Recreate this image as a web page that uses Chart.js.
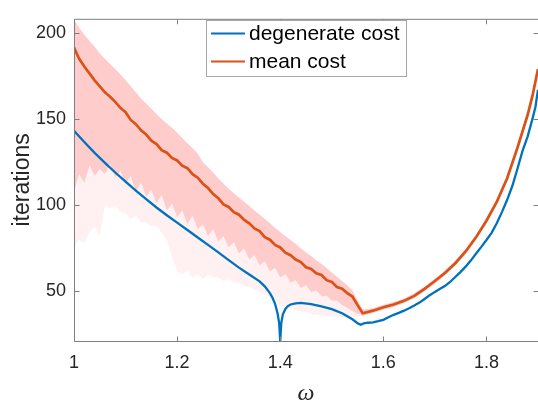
<!DOCTYPE html>
<html><head><meta charset="utf-8">
<script src="https://cdn.jsdelivr.net/npm/chart.js@4.4.0/dist/chart.umd.min.js"></script>
<style>html,body{margin:0;padding:0;background:#fff;}#c{display:block;}</style>
</head><body>
<canvas id="c" width="538" height="402"></canvas>
<script>
const xTicks = [1, 1.2, 1.4, 1.6, 1.8];
const yTicks = [50, 100, 150, 200];
const xTitle = 'ω';
const yTitle = 'iterations';
const seriesLabels = ['degenerate cost', 'mean cost'];

const degX = [1.00,1.02,1.04,1.06,1.08,1.10,1.12,1.14,1.16,1.18,1.20,1.22,1.24,1.26,1.28,1.30,1.32,1.34,1.36,1.37,1.38,1.385,1.39,1.395,1.398,1.40,1.402,1.405,1.41,1.415,1.42,1.43,1.44,1.46,1.48,1.50,1.52,1.54,1.55,1.556,1.562,1.57,1.58,1.59,1.60,1.61,1.62,1.63,1.64,1.65,1.66,1.67,1.68,1.69,1.70,1.71,1.72,1.73,1.74,1.75,1.76,1.77,1.78,1.79,1.80,1.81,1.82,1.83,1.84,1.85,1.86,1.87,1.88,1.89,1.895,1.90];
const degY = [143.2,136.7,130.4,124.6,119,113.7,108.5,103.5,98.7,94.2,89.9,85.6,81.3,77,72.6,68.1,63.8,59.8,55.8,52.9,49,46.3,42.8,37,31.5,21.2,31.5,36.5,39.8,41.5,42.4,43.1,43.3,42.6,41.3,39.7,37.3,33.8,31.5,30.6,31.4,31.8,32,32.7,33.5,35,36.4,37.5,38.8,40.2,41.8,43.5,45.6,47.8,49.7,51.5,53.2,55.6,58.5,61.3,64.5,68,72,75.8,79.8,84,89.5,96,103,111,121,131.5,140,151,157,167];

const meanX = [1.00,1.01,1.02,1.03,1.04,1.05,1.06,1.07,1.08,1.09,1.10,1.11,1.12,1.13,1.14,1.15,1.16,1.17,1.18,1.19,1.20,1.21,1.22,1.23,1.24,1.25,1.26,1.27,1.28,1.29,1.30,1.31,1.32,1.33,1.34,1.35,1.36,1.37,1.38,1.39,1.40,1.41,1.42,1.43,1.44,1.45,1.46,1.47,1.48,1.49,1.50,1.51,1.52,1.53,1.54,1.55,1.56,1.58,1.60,1.62,1.64,1.66,1.68,1.70,1.72,1.74,1.76,1.78,1.80,1.82,1.84,1.86,1.88,1.89,1.90];
const meanY = [191.5,185,180.5,176.5,172.5,169,165.5,163,160,156.5,154,149.5,147,143.5,141,137.5,135.5,132,130.5,127.5,126,123,121.5,118,116,112.5,110,106.5,104,100.5,99,96,94.5,91.5,89.5,86.5,85,81.5,80,77,75.5,72.5,71,68.5,67,64,63,60.5,59.5,56.5,55.5,52.5,51.5,49,47,42,37.3,38.8,40.8,42.4,44.5,47.4,51.5,56,60.8,66.5,73.3,81.5,91,102,115.5,133.2,152.5,164.5,179];

const bandUpper = [208,203,199,195.5,192,188,185,182,179,176,172.5,169,165.5,162,159,156,153,150,147.5,145,142,139,136,133,130,125,122,119,115.5,112.5,109.5,107,104.5,102,99.5,97,94.5,92,89.5,87,84.5,82,80,77.5,75,72.5,70.5,68,66,63.5,61,58.5,56,53.5,50.5,45,39.5,40.2,42.2,43.8,45.9,48.8,52.9,57.4,62.2,67.9,74.7,82.9,92.4,103.4,116.9,134.6,153.9,165.9,180.4];
const bandLower = [108,118,113,123,117,121,118,124,116,120,112,117,108,113,105,109,101,106,97,101,93,97,89,94,86,89,82,86,79,82,75.5,78.5,72,75,68.5,71,65,67.5,61.5,63.5,58,60,55,56.5,52,53.5,49.5,50.5,47,47.5,44.5,44.5,42,40.5,38.5,37,35.8,37.4,39.4,41,43.1,46,50.1,54.6,59.4,65.1,71.9,80.1,89.6,100.6,114.1,131.8,151.1,163.1,177.6];
const bandFloor = [76,80,78,84,88,82,100,98,100,96,95,92,94,90,90,88,88,84,80,70,62,60,62,58,60,57,60,58,58,56,57,55,55,53,53,51,50,48,47,45,42,41,40,39,38,38,37,36.5,36,35.5,35.5,35,35,35,35,35.5,35.8,37.4,39.4,41,43.1,46,50.1,54.6,59.4,65.1,71.9,80.1,89.6,100.6,114.1,131.8,151.1,163.1,177.6];

const FONT = '"Liberation Sans", Arial, Helvetica, sans-serif';
const pts = (xs, ys) => xs.map((v, i) => ({x: v, y: ys[i]}));

const axesPlugin = {
  id: 'axesBox',
  afterDatasetsDraw(chart) {
    const {ctx, chartArea: a, scales: {x, y}} = chart;
    ctx.save();
    ctx.strokeStyle = '#7f7f7f';
    ctx.lineWidth = 1;
    ctx.beginPath();
    const L = a.left + 0.5, T = a.top + 0.5, B = a.bottom + 0.5, R = a.right - 0.5;
    ctx.moveTo(L, B); ctx.lineTo(L, T); ctx.lineTo(a.right + 1, T);
    ctx.moveTo(L, B); ctx.lineTo(a.right + 1, B);
    xTicks.forEach(v => {
      const px = Math.round(x.getPixelForValue(v)) + 0.5;
      ctx.moveTo(px, B); ctx.lineTo(px, B - 5);
      ctx.moveTo(px, T); ctx.lineTo(px, T + 5);
    });
    yTicks.forEach(v => {
      const py = Math.round(y.getPixelForValue(v)) + 0.5;
      ctx.moveTo(L, py); ctx.lineTo(L + 5, py);
      ctx.moveTo(R + 1, py); ctx.lineTo(R - 4, py);
    });
    ctx.stroke();

    // legend
    const lx = 206.5, ly = 20.5, lw = 200, lh = 56;
    ctx.fillStyle = '#fff';
    ctx.fillRect(lx, ly, lw, lh);
    ctx.strokeStyle = '#a6a6a6';
    ctx.strokeRect(lx, ly, lw, lh);
    const items = seriesLabels.map(l => chart.data.datasets.find(d => d.label === l));
    ctx.font = '21px ' + FONT;
    ctx.textBaseline = 'middle';
    ctx.textAlign = 'left';
    items.forEach((d, i) => {
      const cy = 33.5 + i * 28;
      ctx.strokeStyle = d.borderColor;
      ctx.lineWidth = 2;
      ctx.beginPath(); ctx.moveTo(211, cy); ctx.lineTo(245, cy); ctx.stroke();
      ctx.fillStyle = '#000';
      ctx.fillText(d.label, 249, cy + 1);
    });
    ctx.restore();
  }
};

new Chart(document.getElementById('c'), {
  type: 'line',
  data: {
    datasets: [
      {label: seriesLabels[1], data: pts(meanX, meanY), borderColor: '#D95319', borderWidth: 2.7, pointRadius: 0, fill: false, order: 0, tension: 0},
      {label: seriesLabels[0], data: pts(degX, degY), borderColor: '#0072BD', borderWidth: 2.3, pointRadius: 0, fill: false, order: 1, tension: 0},
      {label: 'band upper', data: pts(meanX, bandUpper), borderWidth: 0, borderColor: 'rgba(0,0,0,0)', backgroundColor: '#FFCCCC', pointRadius: 0, fill: '+1', order: 3},
      {label: 'band lower', data: pts(meanX, bandLower), borderWidth: 0, borderColor: 'rgba(0,0,0,0)', backgroundColor: '#FFF1F1', pointRadius: 0, fill: '+1', order: 4},
      {label: 'band floor', data: pts(meanX, bandFloor), borderWidth: 0, borderColor: 'rgba(0,0,0,0)', pointRadius: 0, fill: false, order: 5}
    ]
  },
  options: {
    responsive: false,
    animation: false,
    devicePixelRatio: 1,
    layout: {padding: {top: 10, right: 0, bottom: 0, left: 0}},
    plugins: {legend: {display: false}, tooltip: {enabled: false}},
    scales: {
      x: {
        type: 'linear', min: 1, max: 1.9,
        afterBuildTicks: s => { s.ticks = xTicks.map(v => ({value: v})); },
        afterFit: s => { s.height = 61; },
        grid: {display: false, drawTicks: false},
        border: {display: false},
        ticks: {autoSkip: false, maxRotation: 0, padding: 11, color: '#262626', font: {family: FONT, size: 18}, callback: v => String(v)},
        title: {display: true, text: xTitle, color: '#262626', font: {family: '"Liberation Serif", "DejaVu Serif", serif', size: 24, style: 'italic', lineHeight: 1}, padding: {top: 0, bottom: -4}}
      },
      y: {
        type: 'linear', min: 21.2, max: 208.2,
        afterBuildTicks: s => { s.ticks = yTicks.map(v => ({value: v})); },
        afterFit: s => { s.width = 74; },
        grid: {display: false, drawTicks: false},
        border: {display: false},
        ticks: {autoSkip: false, padding: 8, color: '#262626', font: {family: FONT, size: 18}, callback: v => String(v)},
        title: {display: true, text: yTitle, color: '#262626', font: {family: FONT, size: 23, lineHeight: 1.2}, padding: {top: 9, bottom: 0}}
      }
    }
  },
  plugins: [axesPlugin]
});
</script>
</body></html>
